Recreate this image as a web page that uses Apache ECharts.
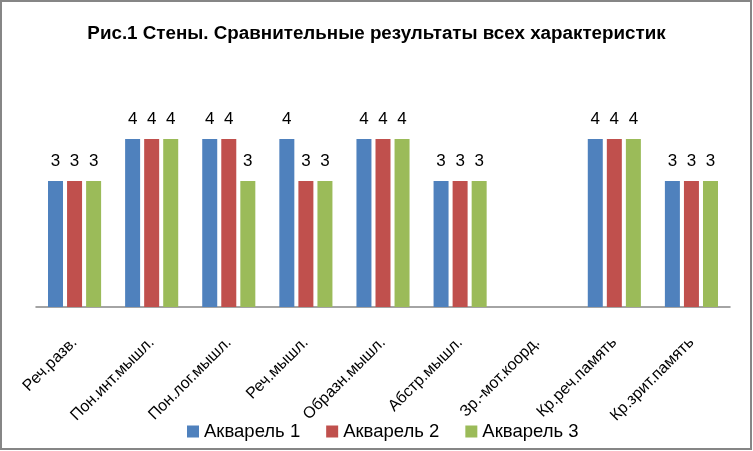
<!DOCTYPE html>
<html>
<head>
<meta charset="utf-8">
<script src="https://cdn.jsdelivr.net/npm/echarts@6/dist/echarts.min.js"></script>
<style>
  html, body { margin: 0; padding: 0; background: #fff; }
  #main { width: 753px; height: 451px; }
</style>
</head>
<body>
<div id="main"></div>
<script>
// данные диаграммы
const categories = [
  'Реч.разв.', 'Пон.инт.мышл.', 'Пон.лог.мышл.', 'Реч.мышл.', 'Образн.мышл.',
  'Абстр.мышл.', 'Зр.-мот.коорд.', 'Кр.реч.память', 'Кр.зрит.память'
]
const akvarel1 = [3, 4, 4, 4, 4, 3, null, 4, 3]
const akvarel2 = [3, 4, 4, 3, 4, 3, null, 4, 3]
const akvarel3 = [3, 4, 3, 3, 4, 3, null, 4, 3]
const seriesNames = ['Акварель 1', 'Акварель 2', 'Акварель 3']
const colors = ['#4F81BD', '#C0504D', '#9BBB59']

const font = '"Liberation Sans", sans-serif'

const chart = echarts.init(document.getElementById('main'))

const makeSeries = (name, data, color) => ({
  name,
  type: 'bar',
  data,
  barWidth: 15,
  barGap: '27%',
  itemStyle: { color },
  label: {
    show: true,
    position: 'top',
    distance: 11,
    color: '#000',
    fontSize: 17,
    fontFamily: font,
  },
  emphasis: { disabled: true },
})

chart.setOption({
  animation: false,
  backgroundColor: '#fff',
  title: {
    text: 'Рис.1 Стены. Сравнительные результаты всех характеристик',
    left: 'center',
    top: 19,
    textStyle: { fontFamily: font, fontSize: 18.8, fontWeight: 'bold', color: '#000' },
  },
  legend: {
    bottom: 5,
    left: 182,
    itemWidth: 12,
    itemHeight: 12,
    itemGap: 26,
    icon: 'rect',
    textStyle: { fontFamily: font, fontSize: 18.5, color: '#000' },
    data: seriesNames,
  },
  grid: { left: 36, right: 23, top: 55, bottom: 144 },
  xAxis: {
    type: 'category',
    data: categories,
    axisLine: { lineStyle: { color: '#868686', width: 1.5 } },
    axisTick: { show: false },
    axisLabel: {
      rotate: 45,
      interval: 0,
      margin: 33,
      color: '#000',
      fontSize: 16,
      fontFamily: font,
    },
  },
  yAxis: {
    type: 'value',
    min: 0,
    max: 6,
    show: false,
    splitLine: { show: false },
  },
  graphic: [{
    type: 'rect',
    shape: { x: 1, y: 1, width: 750, height: 448 },
    style: { fill: 'none', stroke: '#868686', lineWidth: 2 },
    silent: true,
  }],
  series: [
    makeSeries(seriesNames[0], akvarel1, colors[0]),
    makeSeries(seriesNames[1], akvarel2, colors[1]),
    makeSeries(seriesNames[2], akvarel3, colors[2]),
  ],
})
</script>
</body>
</html>
